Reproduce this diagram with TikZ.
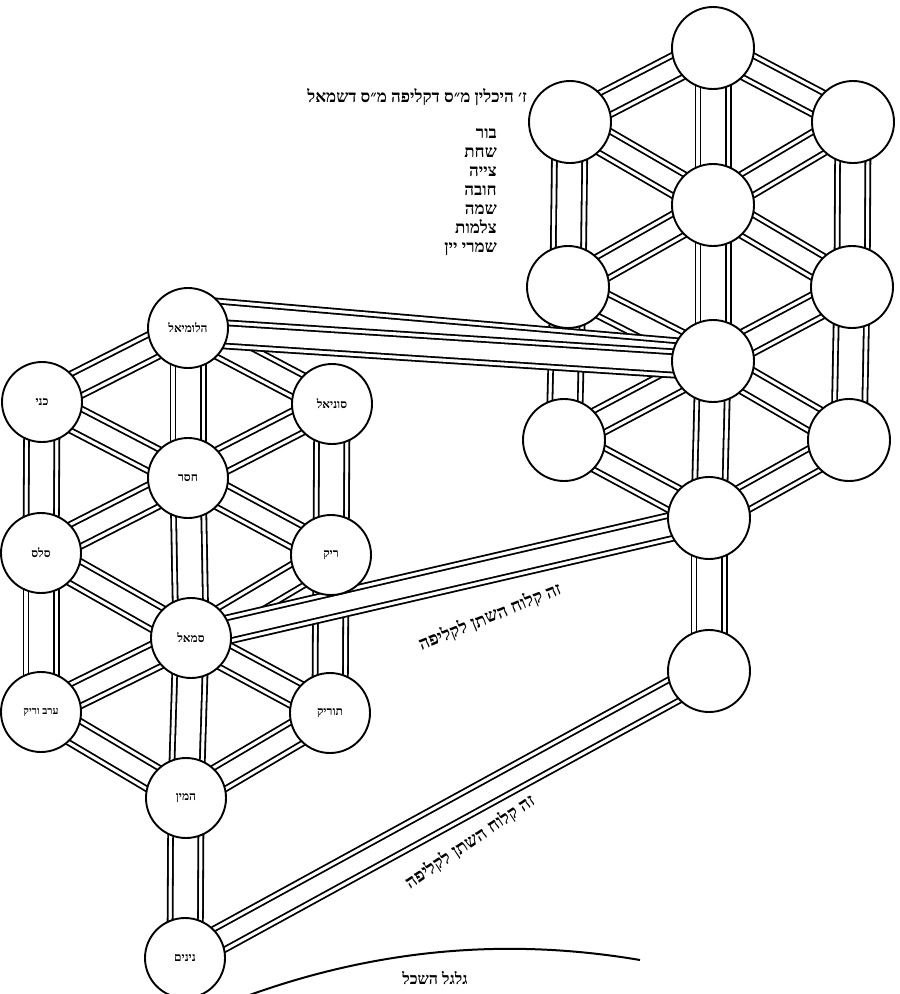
\documentclass[tikz,border=0pt]{standalone}
\usepackage{fontspec}
\setmainfont{Liberation Serif}
\newfontfamily\heb[Script=Hebrew]{Liberation Serif}
\TeXXeTstate=1
\usetikzlibrary{backgrounds,calc}
\newcommand\hb[1]{\beginR#1\endR}
\newcommand\drawband[3]{%
  \pgfmathsetmacro\bwA{#1}%
  \pgfmathsetmacro\bwB{#1-3.6}%
  \pgfmathsetmacro\bwC{#1-10}%
  \pgfmathsetmacro\bwD{#1-13.6}%
  \draw[black,line width=\bwA pt] #2 -- #3;
  \draw[white,line width=\bwB pt] #2 -- #3;
  \draw[black,line width=\bwC pt] #2 -- #3;
  \draw[white,line width=\bwD pt] #2 -- #3;}
\begin{document}
\begin{tikzpicture}[x=1pt,y=-1pt,
  nd/.style={circle,draw,line width=1.9pt,fill=white,minimum size=80pt,inner sep=0pt,
    font=\heb\bfseries\fontsize{12}{12}\selectfont},
  rn/.style={nd,minimum size=82pt},
  txt/.style={font=\heb\bfseries\fontsize{18}{18}\selectfont,inner sep=1pt}]
\useasboundingbox (0,0) rectangle (900,994);
% left tree
\node[nd] (L0) at (188,328) {\hb{הלומיאל}};
\node[nd] (L1) at (42,402) {\hb{כני}};
\node[nd] (L2) at (332,404) {\hb{סוניאל}};
\node[nd] (L3) at (188,478) {\hb{חסר}};
\node[nd] (L4) at (41,553) {\hb{סלס}};
\node[nd] (L5) at (331,555) {\hb{ריק}};
\node[nd] (L6) at (191,638) {\hb{סמאל}};
\node[nd,font=\heb\bfseries\fontsize{10.5}{10.5}\selectfont] (L7) at (41,712) {\hb{ערב וריק}};
\node[nd] (L8) at (330,713) {\hb{תוריק}};
\node[nd] (L9) at (186,798) {\hb{המין}};
\node[nd] (L10) at (185,958) {\hb{נינים}};
% right tree
\node[rn] (R0) at (713,48) {};
\node[rn] (R1) at (570,122) {};
\node[rn] (R2) at (853,122) {};
\node[rn] (R3) at (713,205) {};
\node[rn] (R4) at (568,287) {};
\node[rn] (R5) at (852,287) {};
\node[rn] (R6) at (713,361) {};
\node[rn] (R7) at (564,440) {};
\node[rn] (R8) at (849,440) {};
\node[rn] (R9) at (709,518) {};
\node[rn] (R10) at (709,671) {};
% bands
\begin{pgfonlayer}{background}
\foreach \a/\b in {0/3,3/6,6/9,9/10,1/4,4/7,2/5,5/8}{
  \drawband{37}{(L\a.center)}{(L\b.center)}
  \drawband{37}{(R\a.center)}{(R\b.center)}}
\foreach \a/\b in {0/1,0/2,1/3,2/3,4/3,5/3,4/6,5/6,7/6,8/6,7/9,8/9}{
  \drawband{31}{(L\a.center)}{(L\b.center)}
  \drawband{31}{(R\a.center)}{(R\b.center)}}
\drawband{30}{($(L0)!0.5!(L0.55)$)}{($(R6)!0.5!(R6.160)$)}
\drawband{30}{($(L0)!0.5!(L0.-15)$)}{($(R6)!0.5!(R6.190)$)}
\drawband{30}{(L6.center)}{(R9.center)}
\drawband{30}{(L10.center)}{(R10.center)}
\end{pgfonlayer}
% texts
\node[txt,font=\heb\bfseries\fontsize{17}{17}\selectfont,anchor=east] (title) at (528,97) {\hb{ז׳ היכלין מ״ס דקליפה מ״ס דשמאל}};
\node[anchor=north east,align=right,inner sep=0pt,font=\heb\bfseries\fontsize{17}{19}\selectfont] (list) at (497,128)
  {\hb{בור}\\\hb{שחת}\\\hb{צייה}\\\hb{חובה}\\\hb{שמה}\\\hb{צלמות}\\\hb{שמרי יין}};
\node[txt,rotate=22] (t1) at (490,617) {\hb{זה קלוח השתן לקליפה}};
\node[txt,rotate=34] (t2) at (470,842) {\hb{זה קלוח השתן לקליפה}};
\node[txt,font=\heb\bfseries\fontsize{16}{16}\selectfont] (gl) at (435,978) {\hb{גלגל השכל}};
\draw[line width=2pt] (236,1000) .. controls (371,949) and (505,937) .. (640,960);
\end{tikzpicture}
\end{document}
